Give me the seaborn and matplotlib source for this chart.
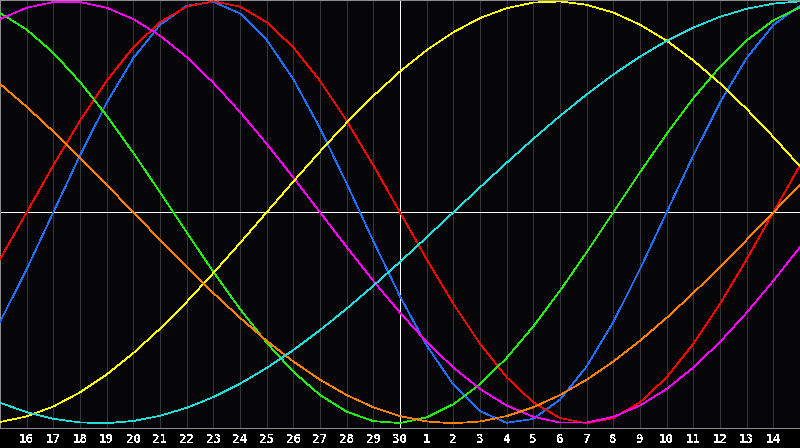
import matplotlib
matplotlib.use('Agg')
import matplotlib.pyplot as plt
import seaborn as sns
import pandas as pd

# day slots across the window: 0 = left edge, 15 = today (30th), 30 = right edge
days = list(range(31))
tick_pos = list(range(1, 30))
tick_labels = [str(d) for d in range(16, 31)] + [str(d) for d in range(1, 15)]
today = 15

# cycle values, one per day slot
physical = [-0.5196, -0.2698, 0.0, 0.2698, 0.5196, 0.7308, 0.8879, 0.9791, 0.9977, 0.9423,
            0.8170, 0.6311, 0.3984, 0.1362, -0.1362, -0.3984, -0.6311, -0.8170, -0.9423, -0.9977,
            -0.9791, -0.8879, -0.7308, -0.5196, -0.2698, 0.0, 0.2698, 0.5196, 0.7308, 0.8879, 0.9791]
emotional = [-0.2225, 0.0, 0.2225, 0.4339, 0.6235, 0.7818, 0.9010, 0.9749, 1.0, 0.9749,
             0.9010, 0.7818, 0.6235, 0.4339, 0.2225, 0.0, -0.2225, -0.4339, -0.6235, -0.7818,
             -0.9010, -0.9749, -1.0, -0.9749, -0.9010, -0.7818, -0.6235, -0.4339, -0.2225, 0.0, 0.2225]
intellectual = [0.9450, 0.8660, 0.7557, 0.6182, 0.4582, 0.2817, 0.0951, -0.0951, -0.2817, -0.4582,
                -0.6182, -0.7557, -0.8660, -0.9450, -0.9898, -0.9989, -0.9718, -0.9096, -0.8146, -0.6901,
                -0.5406, -0.3717, -0.1893, 0.0, 0.1893, 0.3717, 0.5406, 0.6901, 0.8146, 0.9096, 0.9718]
intuitive = [0.9158, 0.9694, 0.9966, 0.9966, 0.9694, 0.9158, 0.8372, 0.7357, 0.6142, 0.4759,
             0.3247, 0.1646, 0.0, -0.1646, -0.3247, -0.4759, -0.6142, -0.7357, -0.8372, -0.9158,
             -0.9694, -0.9966, -0.9966, -0.9694, -0.9158, -0.8372, -0.7357, -0.6142, -0.4759, -0.3247, -0.1646]
aesthetic = [-0.9940, -0.9675, -0.9204, -0.8536, -0.7686, -0.6673, -0.5517, -0.4245, -0.2881, -0.1456,
             0.0, 0.1456, 0.2881, 0.4245, 0.5517, 0.6673, 0.7686, 0.8536, 0.9204, 0.9675,
             0.9940, 0.9993, 0.9834, 0.9465, 0.8893, 0.8133, 0.7199, 0.6112, 0.4894, 0.3573, 0.2174]
awareness = [0.6088, 0.5, 0.3827, 0.2588, 0.1305, 0.0, -0.1305, -0.2588, -0.3827, -0.5,
             -0.6088, -0.7071, -0.7934, -0.8660, -0.9239, -0.9659, -0.9914, -1.0, -0.9914, -0.9659,
             -0.9239, -0.8660, -0.7934, -0.7071, -0.6088, -0.5, -0.3827, -0.2588, -0.1305, 0.0, 0.1305]
spiritual = [-0.9028, -0.9473, -0.9786, -0.9960, -0.9996, -0.9890, -0.9646, -0.9267, -0.8757, -0.8125,
             -0.7379, -0.6529, -0.5586, -0.4566, -0.3482, -0.2349, -0.1183, 0.0, 0.1183, 0.2349,
             0.3482, 0.4566, 0.5586, 0.6529, 0.7379, 0.8125, 0.8757, 0.9267, 0.9646, 0.9890, 0.9996]

cycles = ['physical', 'emotional', 'intellectual', 'intuitive', 'aesthetic', 'awareness', 'spiritual']
colors = ['#1e6eff', '#ff0000', '#22ee11', '#ff00ff', '#ffff00', '#ff8000', '#22dddd']

rows = []
for name, vals in zip(cycles, [physical, emotional, intellectual, intuitive,
                               aesthetic, awareness, spiritual]):
    for d, v in zip(days, vals):
        rows.append({'day': d, 'value': v, 'cycle': name})
df = pd.DataFrame(rows)

sns.set_style('dark', {'axes.facecolor': '#060608', 'figure.facecolor': '#000000'})
plt.rcParams['font.family'] = ['DejaVu Sans Mono', 'DejaVu Sans']
plt.rcParams['text.antialiased'] = False
plt.rcParams['lines.antialiased'] = False

fig = plt.figure(figsize=(8, 4.48), dpi=100)
ax = fig.add_axes([0, 20 / 448, 1, 428 / 448])

# day grid
for p in tick_pos:
    ax.axvline(p, color='#363636', linewidth=0.72, antialiased=False, zorder=1)

ax.axhline(0, color='white', linewidth=0.72, antialiased=False, zorder=2)
ax.axvline(today, color='white', linewidth=0.72, antialiased=False, zorder=2)

sns.lineplot(data=df, x='day', y='value', hue='cycle', hue_order=cycles,
             palette=colors, linewidth=0.5, antialiased=False, legend=False,
             sort=False, estimator=None, ax=ax, zorder=3)
for line in ax.get_lines():
    if line.get_zorder() == 3:
        line.set_linewidth(0.5)
        line.set_antialiased(False)

ax.set_xlim(0, 30)
ax.set_ylim(-1.0223, 1.0062)
ax.set_xticks(tick_pos)
ax.set_xticklabels(tick_labels, color='white', fontsize=9, fontweight='bold')
ax.set_yticks([])
ax.tick_params(axis='x', length=0, pad=3.5)
ax.grid(False)
ax.set_xlabel('')
ax.set_ylabel('')
for s in ax.spines.values():
    s.set_visible(True)
    s.set_color('#8c8c8c')
    s.set_linewidth(0.72)

fig.savefig('out.png', dpi=100, facecolor='#000000')
